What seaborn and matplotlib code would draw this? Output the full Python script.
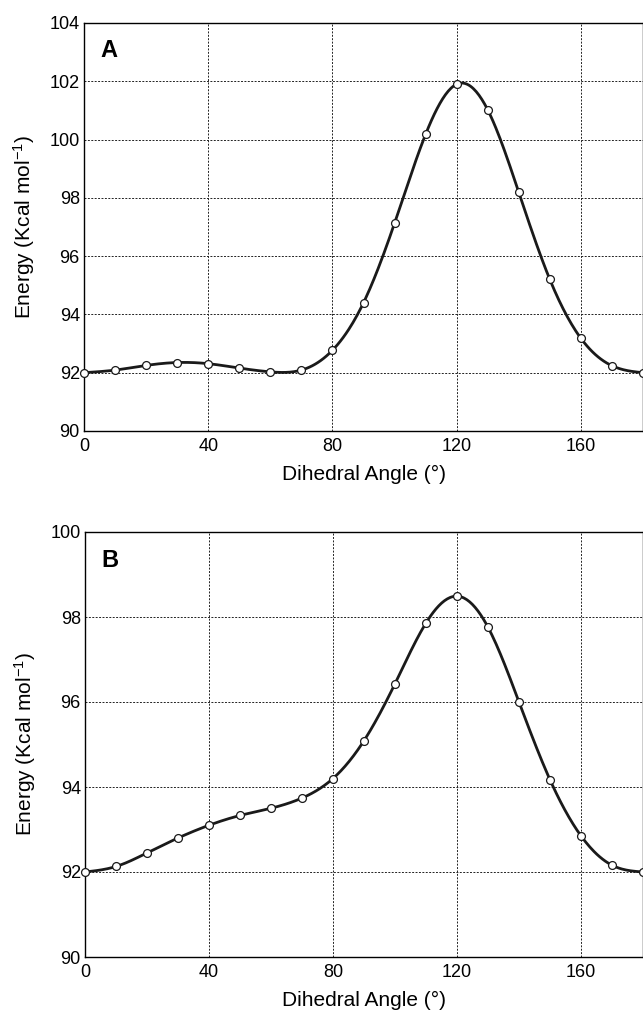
import numpy as np
import pandas as pd
import matplotlib
matplotlib.use("Agg")
import matplotlib.pyplot as plt
import seaborn as sns

angles = [0, 10, 20, 30, 40, 50, 60, 70, 80, 90, 100, 110, 120, 130, 140, 150, 160, 170, 180]
energy_a = [92.0, 92.09, 92.25, 92.35, 92.31, 92.16, 92.03, 92.09, 92.77, 94.4, 97.13, 100.18,
            101.9, 101.02, 98.19, 95.2, 93.18, 92.24, 92.0]
energy_b = [92.0, 92.13, 92.45, 92.8, 93.1, 93.33, 93.5, 93.74, 94.2, 95.09, 96.43, 97.86,
            98.49, 97.76, 96.0, 94.17, 92.85, 92.16, 92.0]
x_ticks = [0, 40, 80, 120, 160]
y_ticks_a = [90, 92, 94, 96, 98, 100, 102, 104]
y_ticks_b = [90, 92, 94, 96, 98, 100]
panel_labels = ["A", "B"]


def natural_spline(x, y, n=400):
    x = np.asarray(x, float)
    y = np.asarray(y, float)
    k = len(x)
    h = np.diff(x)
    A = np.zeros((k, k))
    r = np.zeros(k)
    A[0, 0] = 1
    A[-1, -1] = 1
    for i in range(1, k - 1):
        A[i, i - 1] = h[i - 1]
        A[i, i] = 2 * (h[i - 1] + h[i])
        A[i, i + 1] = h[i]
        r[i] = 6 * ((y[i + 1] - y[i]) / h[i] - (y[i] - y[i - 1]) / h[i - 1])
    M = np.linalg.solve(A, r)
    xs = np.linspace(x[0], x[-1], n)
    idx = np.clip(np.searchsorted(x, xs) - 1, 0, k - 2)
    x0, x1 = x[idx], x[idx + 1]
    hh = x1 - x0
    t0 = x1 - xs
    t1 = xs - x0
    ys = (M[idx] * t0 ** 3 / (6 * hh) + M[idx + 1] * t1 ** 3 / (6 * hh)
          + (y[idx] / hh - M[idx] * hh / 6) * t0 + (y[idx + 1] / hh - M[idx + 1] * hh / 6) * t1)
    return xs, ys


sns.set_theme(style="white")
plt.rcParams["font.family"] = ["Liberation Sans", "DejaVu Sans"]
plt.rcParams["mathtext.fontset"] = "custom"
plt.rcParams["mathtext.rm"] = "Liberation Sans"
plt.rcParams["mathtext.it"] = "Liberation Sans"

fig = plt.figure(figsize=(6.43, 10.14), dpi=100)
W, H = 643, 1014
boxes = [(84, 23, 643, 431), (85, 532, 643, 957)]
datasets = [(energy_a, y_ticks_a), (energy_b, y_ticks_b)]

for (l, t, r, b), (vals, yt), lab in zip(boxes, datasets, panel_labels):
    ax = fig.add_axes([l / W, 1 - b / H, (r - l) / W, (b - t) / H])
    xs, ys = natural_spline(angles, vals)
    sns.lineplot(x=xs, y=ys, ax=ax, color="#1a1a1a", linewidth=2.0, zorder=3)
    sns.scatterplot(x=angles, y=vals, ax=ax, s=32, facecolor="white", edgecolor="#1a1a1a",
                    linewidth=0.9, zorder=4, clip_on=False)
    ax.set_xlim(0, 180)
    ax.set_ylim(yt[0], yt[-1])
    ax.set_xticks(x_ticks)
    ax.set_yticks(yt)
    ax.grid(True, color="#222222", linestyle=(0, (2, 1.5)), linewidth=0.7)
    for s in ax.spines.values():
        s.set_color("black")
        s.set_linewidth(1.0)
    ax.tick_params(direction="in", length=4, width=0.8, colors="black", labelsize=13,
                   top=False, right=False, pad=3)
    ax.tick_params(axis="x", pad=5)
    ax.set_xlabel("Dihedral Angle (°)", fontsize=15, color="black", labelpad=7)
    ax.set_ylabel("Energy (Kcal mol$^{-1}$)", fontsize=15, color="black", labelpad=9)
    ax.text(0.029, 0.917, lab, transform=ax.transAxes, fontsize=17, fontweight="bold",
            ha="left", va="baseline", color="black")

fig.savefig("out.png", dpi=100)
